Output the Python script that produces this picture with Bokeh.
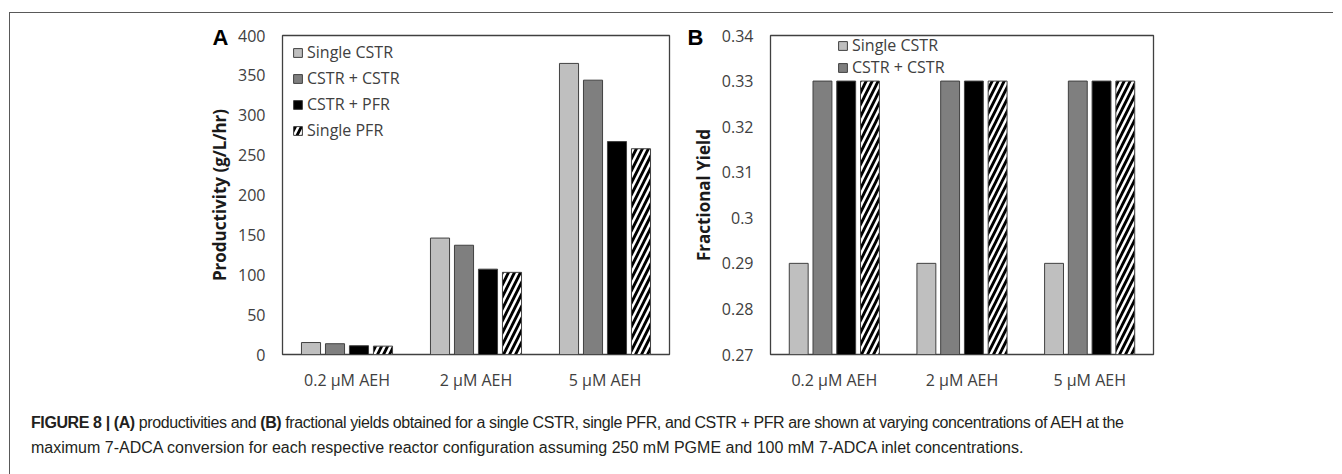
from bokeh.plotting import figure
from bokeh.models import Range1d, FactorRange, FixedTicker, Legend, LegendItem, Title, Div, ColumnDataSource
from bokeh.layouts import row, column
from bokeh.transform import dodge
from bokeh.embed import file_html
from bokeh.resources import INLINE

# ---------------- data ----------------
categories = ["0.2 µM AEH", "2 µM AEH", "5 µM AEH"]
series_names = ["Single CSTR", "CSTR + CSTR", "CSTR + PFR", "Single PFR"]

productivity_single_cstr = [15, 146, 365]
productivity_cstr_cstr = [13.5, 137, 344]
productivity_cstr_pfr = [11, 107, 267]
productivity_single_pfr = [10.5, 103, 258]

yield_single_cstr = [0.29, 0.29, 0.29]
yield_cstr_cstr = [0.33, 0.33, 0.33]
yield_cstr_pfr = [0.33, 0.33, 0.33]
yield_single_pfr = [0.33, 0.33, 0.33]

prod_ticks = [0, 50, 100, 150, 200, 250, 300, 350, 400]
yield_ticks = [0.27, 0.28, 0.29, 0.30, 0.31, 0.32, 0.33, 0.34]
yield_tick_labels = ["0.27", "0.28", "0.29", "0.3", "0.31", "0.32", "0.33", "0.34"]

caption_line1 = ("<b>FIGURE 8 | (A)</b> productivities and <b>(B)</b> fractional yields obtained for a single CSTR, "
                 "single PFR, and CSTR + PFR are shown at varying concentrations of AEH at the")
caption_line2 = ("maximum 7-ADCA conversion for each respective reactor configuration assuming 250 mM PGME "
                 "and 100 mM 7-ADCA inlet concentrations.")

# ---------------- styles ----------------
FONT = "Open Sans"
fills = ["#bfbfbf", "#7f7f7f", "#000000", "#ffffff"]
hatches = [None, None, None, "/"]
offsets = [-0.279, -0.093, 0.093, 0.279]
BAR_W = 0.148
TXT = "#404040"


def make_panel(width, min_left, min_right, y0, y1, ticks, title):
    p = figure(x_range=FactorRange(*categories), y_range=Range1d(y0, y1),
               width=width, height=382,
               min_border_left=min_left, min_border_right=min_right,
               min_border_top=22, min_border_bottom=41,
               output_backend="svg", toolbar_location=None)
    p.xgrid.grid_line_color = None
    p.ygrid.grid_line_color = None
    p.outline_line_color = "#404040"
    p.outline_line_width = 1.3
    p.background_fill_color = "white"
    p.border_fill_color = "white"
    for ax in (p.xaxis[0], p.yaxis[0]):
        ax.axis_line_color = None
        ax.major_tick_line_color = None
        ax.minor_tick_line_color = None
        ax.major_tick_out = 0
        ax.major_tick_in = 0
        ax.major_label_text_font = FONT
        ax.major_label_text_font_size = "16px"
        ax.major_label_text_color = TXT
    p.xaxis.major_label_standoff = 14
    p.yaxis.major_label_standoff = 17
    p.yaxis.ticker = FixedTicker(ticks=ticks)
    p.yaxis.axis_label = title
    p.yaxis.axis_label_text_font = FONT
    p.yaxis.axis_label_text_font_size = "17px"
    p.yaxis.axis_label_text_font_style = "bold"
    p.yaxis.axis_label_text_color = "#1a1a1a"
    p.yaxis.axis_label_standoff = 4
    return p


def add_bars(p, series, base):
    src = ColumnDataSource(dict(cat=categories,
                                s0=series[0], s1=series[1], s2=series[2], s3=series[3]))
    rends = []
    for i in range(4):
        kw = dict(x=dodge("cat", offsets[i], range=p.x_range), top="s%d" % i, bottom=base,
                  width=BAR_W, source=src, fill_color=fills[i],
                  line_color="#404040", line_width=1)
        if hatches[i]:
            kw.update(hatch_pattern=hatches[i], hatch_color="black",
                      hatch_weight=2.8, hatch_scale=12)
        rends.append(p.vbar(**kw))
    return rends


def style_legend(lg):
    lg.label_text_font = FONT
    lg.label_text_font_size = "16px"
    lg.label_text_color = TXT
    lg.glyph_width = 11
    lg.glyph_height = 11
    lg.label_standoff = 4
    lg.label_height = 20
    lg.border_line_alpha = 0
    lg.background_fill_alpha = 0
    lg.margin = 0
    lg.padding = 0


def panel_letter(text, offset):
    return Title(text=text, align="left", offset=offset, standoff=-28,
                 text_font="Liberation Sans", text_font_style="bold",
                 text_font_size="22px", text_color="black")


# ---------------- panel A ----------------
pA = make_panel(670, 272, 11, 0, 400, prod_ticks, "Productivity (g/L/hr)")
rA = add_bars(pA, [productivity_single_cstr, productivity_cstr_cstr,
                   productivity_cstr_pfr, productivity_single_pfr], 0)
legA = Legend(items=[LegendItem(label=series_names[i], renderers=[rA[i]]) for i in range(4)],
              location=(10, 213))
style_legend(legA)
legA.spacing = 4
pA.add_layout(legA)
pA.add_layout(panel_letter("A", -70), "above")

# ---------------- panel B ----------------
pB = make_panel(653, 90, 180, 0.27, 0.34, yield_ticks, "Fractional Yield")
pB.yaxis.major_label_overrides = {t: l for t, l in zip(yield_ticks, yield_tick_labels)}
rB = add_bars(pB, [yield_single_cstr, yield_cstr_cstr, yield_cstr_pfr, yield_single_pfr], 0.27)
legB = Legend(items=[LegendItem(label=series_names[i], renderers=[rB[i]]) for i in range(2)],
              location=(67, 276))
style_legend(legB)
legB.spacing = 0
pB.add_layout(legB)
pB.add_layout(panel_letter("B", -83), "above")

# ---------------- caption ----------------
cap_html = (
    '<div style="padding-top:10px;padding-left:16px;line-height:25px;color:#231f20;'
    'font-family:\'Liberation Sans\',Arial,sans-serif;font-size:16px;">'
    '<div style="white-space:nowrap;letter-spacing:-0.4px;">' + caption_line1 + '</div>'
    '<div style="white-space:nowrap;">' + caption_line2 + '</div></div>'
)
cap = Div(text=cap_html, width=1310, height=70)

layout = column(row(pA, pB), cap, margin=(12, 0, 0, 9),
                styles={"border-top": "1px solid #595959", "border-left": "1px solid #595959"})

open("out.html", "w").write(file_html(layout, INLINE))
